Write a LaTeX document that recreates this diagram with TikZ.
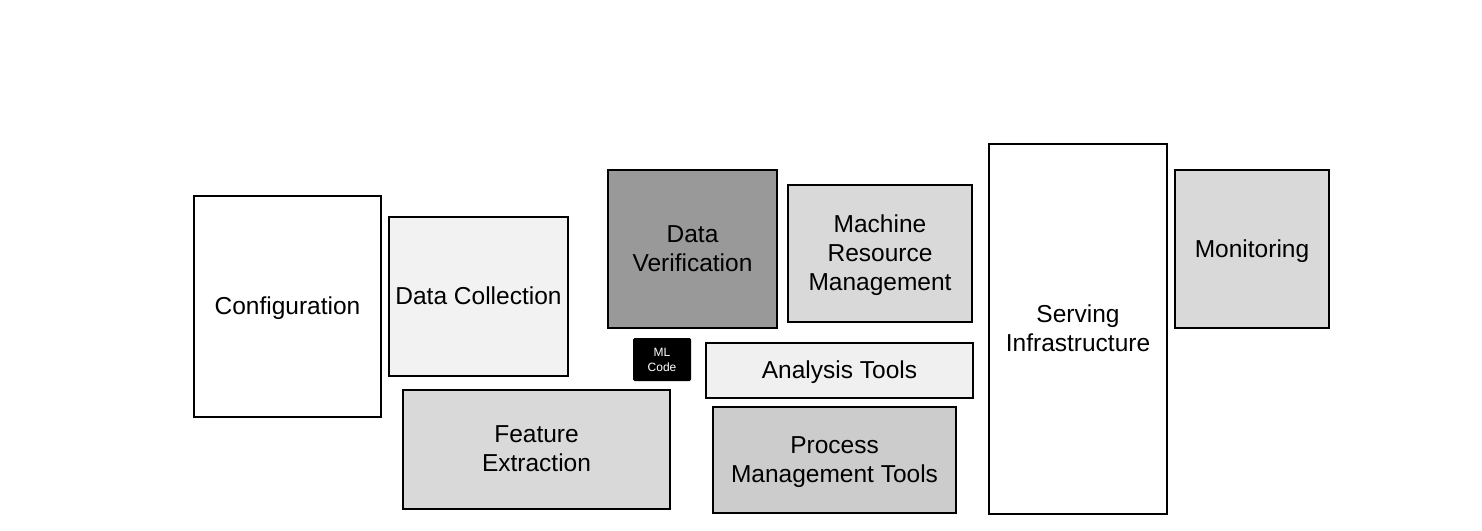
\documentclass[tikz,border=0pt]{standalone}
\usepackage{fontspec}
\setmainfont{Liberation Sans}
\begin{document}
\begin{tikzpicture}[
    x=1pt, y=-1pt,
    part/.style={rectangle, draw=black, line width=1.7pt, align=center,
      inner sep=2pt, text depth=1pt, font=\fontsize{24.5}{29}\selectfont},
    core/.style={rectangle, rounded corners=1.5pt, fill=black, text=white,
      align=center, inner sep=1pt, font=\fontsize{12}{15}\selectfont}]
  \useasboundingbox (0,0) rectangle (1482,530);
  % left column
  \node[part, fill=white, minimum width=187pt, minimum height=221pt]
    (cfg) at (287.5,306.5) {Configuration};
  \node[part, fill=black!5, minimum width=179pt, minimum height=159pt]
    (dcol) at (478.5,296.5) {Data Collection};
  \node[part, fill=black!15, minimum width=267pt, minimum height=119pt]
    (feat) at (536.5,449.5) {Feature\\Extraction};
  % middle
  \node[part, fill=black!40, minimum width=169pt, minimum height=158pt]
    (dver) at (692.5,249) {Data\\Verification};
  \node[core, minimum width=58pt, minimum height=43pt]
    (ml) at (662,359.5) {ML\\Code};
  \node[part, fill=black!6, minimum width=267pt, minimum height=55pt]
    (ana) at (839.5,370.5) {Analysis Tools};
  \node[part, fill=black!20, minimum width=243pt, minimum height=106pt]
    (proc) at (834.5,460) {Process\\Management Tools};
  \node[part, fill=black!15, minimum width=184pt, minimum height=137pt]
    (mres) at (880,253.5) {Machine\\Resource\\Management};
  % right column
  \node[part, fill=white, minimum width=178pt, minimum height=370pt]
    (serv) at (1078,329) {Serving\\Infrastructure};
  \node[part, fill=black!15, minimum width=154pt, minimum height=158pt]
    (mon) at (1252,249) {Monitoring};
\end{tikzpicture}
\end{document}
